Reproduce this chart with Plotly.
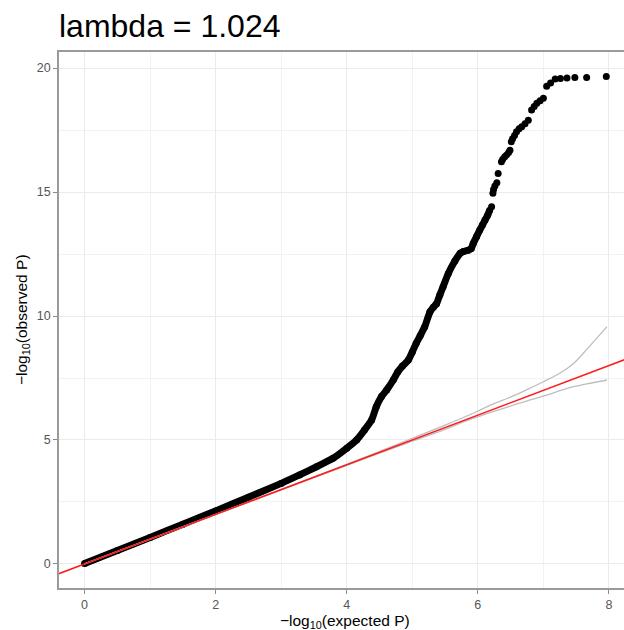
import plotly.graph_objects as go

# ---- data ----
# dense part of the QQ curve (expected, observed)
dense_x = [0.0, 0.5, 1.0, 1.5, 2.0, 2.5, 3.0, 3.28, 3.54, 3.79, 4.0, 4.15, 4.27, 4.38,
           4.45, 4.53, 4.61, 4.71, 4.78, 4.85, 4.94, 5.0, 5.06, 5.12, 5.19, 5.27, 5.32,
           5.37, 5.42, 5.47, 5.55, 5.65, 5.73, 5.78, 5.85, 5.9, 5.93, 5.98, 6.03, 6.07,
           6.11, 6.15, 6.18]
dense_y = [0.02, 0.54, 1.07, 1.6, 2.14, 2.69, 3.25, 3.59, 3.92, 4.26, 4.67, 5.0, 5.4, 5.81,
           6.34, 6.75, 7.02, 7.42, 7.75, 7.98, 8.23, 8.55, 8.9, 9.2, 9.57, 10.17, 10.35,
           10.5, 10.85, 11.18, 11.72, 12.22, 12.53, 12.6, 12.65, 12.72, 12.93, 13.2, 13.47, 13.67,
           13.87, 14.07, 14.27]
# sparse tail points
tail_x = [6.21, 6.23, 6.24, 6.26, 6.29, 6.31, 6.36, 6.38, 6.41, 6.44, 6.47, 6.49, 6.51,
          6.53, 6.56, 6.59, 6.63, 6.67, 6.72, 6.77, 6.82, 6.86, 6.9, 6.95, 7.0, 7.05,
          7.11, 7.18, 7.26, 7.36, 7.48, 7.66, 7.96]
tail_y = [14.41, 14.95, 15.1, 15.25, 15.38, 15.75, 16.22, 16.32, 16.42, 16.5, 16.6, 16.69, 17.03,
          17.15, 17.28, 17.43, 17.55, 17.63, 17.76, 17.9, 18.31, 18.45, 18.58, 18.68, 18.78, 19.27,
          19.4, 19.56, 19.58, 19.6, 19.62, 19.62, 19.66]
# confidence band
ci_up_x = [0.0, 3.0, 4.0, 4.5, 5.0, 5.5, 5.98, 6.23, 6.49, 6.74, 7.0, 7.25, 7.46, 7.63, 7.97]
ci_up_y = [0.0, 3.0, 4.02, 4.54, 5.07, 5.6, 6.14, 6.45, 6.72, 7.02, 7.35, 7.69, 8.09, 8.56, 9.57]
ci_lo_x = [0.0, 3.0, 4.0, 4.5, 5.0, 5.5, 5.83, 6.13, 6.44, 6.74, 7.05, 7.35, 7.66, 7.97]
ci_lo_y = [0.0, 2.99, 3.98, 4.47, 4.95, 5.43, 5.78, 6.05, 6.32, 6.57, 6.81, 7.07, 7.26, 7.42]
# identity reference line
ref_x = [-1.0, 9.0]
ref_y = [-1.0, 9.0]

x_ticks = [0, 2, 4, 6, 8]
y_ticks = [0, 5, 10, 15, 20]
title_text = "lambda = 1.024"

FONT = "Liberation Sans, Arial, Helvetica, sans-serif"
W, H = 624, 630
ML, MT, MB, MR = 59, 52, 42, 0

fig = go.Figure()
fig.add_trace(go.Scatter(x=dense_x, y=dense_y, mode="lines+markers",
                         line=dict(color="black", width=7, shape="spline", smoothing=0.6),
                         marker=dict(color="black", size=7), hoverinfo="skip"))
fig.add_trace(go.Scatter(x=tail_x, y=tail_y, mode="markers",
                         marker=dict(color="black", size=7), hoverinfo="skip"))
fig.add_trace(go.Scatter(x=ci_up_x, y=ci_up_y, mode="lines",
                         line=dict(color="#bebebe", width=1.3, shape="spline"), hoverinfo="skip"))
fig.add_trace(go.Scatter(x=ci_lo_x, y=ci_lo_y, mode="lines",
                         line=dict(color="#bebebe", width=1.3, shape="spline"), hoverinfo="skip"))
fig.add_trace(go.Scatter(x=ref_x, y=ref_y, mode="lines",
                         line=dict(color="#ff1a1a", width=1.5), hoverinfo="skip"))

axis_common = dict(
    showgrid=True, gridcolor="#ebebeb", gridwidth=1.1,
    zeroline=False, showline=True, linecolor="#9a9a9a", linewidth=1.5,
    ticks="outside", ticklen=4, tickwidth=1.1, tickcolor="#8a8a8a",
    tickfont=dict(family=FONT, size=12.5, color="#555555"),
)
fig.update_xaxes(range=[-0.39, 8.23], tickvals=x_ticks, mirror=True,
                 minor=dict(dtick=1, tick0=0, showgrid=True, gridcolor="#f2f2f2", gridwidth=0.8),
                 **axis_common)
fig.update_yaxes(range=[-0.97, 20.65], tickvals=y_ticks,
                 minor=dict(dtick=2.5, tick0=0, showgrid=True, gridcolor="#f2f2f2", gridwidth=0.8),
                 **axis_common)

plot_w = W - ML - MR
plot_h = H - MT - MB
fig.update_layout(
    width=W, height=H,
    margin=dict(l=ML, r=MR, t=MT, b=MB, pad=0),
    paper_bgcolor="white", plot_bgcolor="white",
    showlegend=False,
    title=dict(text=title_text, font=dict(family=FONT, size=32, color="black"),
               xref="paper", x=0, xanchor="left",
               yref="container", y=1 - 26 / H, yanchor="middle"),
    annotations=[
        dict(text="−log<sub>10</sub>(expected P)", xref="paper", yref="paper",
             x=(345 - ML) / plot_w, y=(H - MB - 621) / plot_h, xanchor="center", yanchor="middle",
             showarrow=False, font=dict(family=FONT, size=15.5, color="black")),
        dict(text="−log<sub>10</sub>(observed P)", xref="paper", yref="paper",
             x=(22 - ML) / plot_w, y=0.5, xanchor="center", yanchor="middle", textangle=-90,
             showarrow=False, font=dict(family=FONT, size=15.5, color="black")),
    ],
)

fig.write_html("out.html")
